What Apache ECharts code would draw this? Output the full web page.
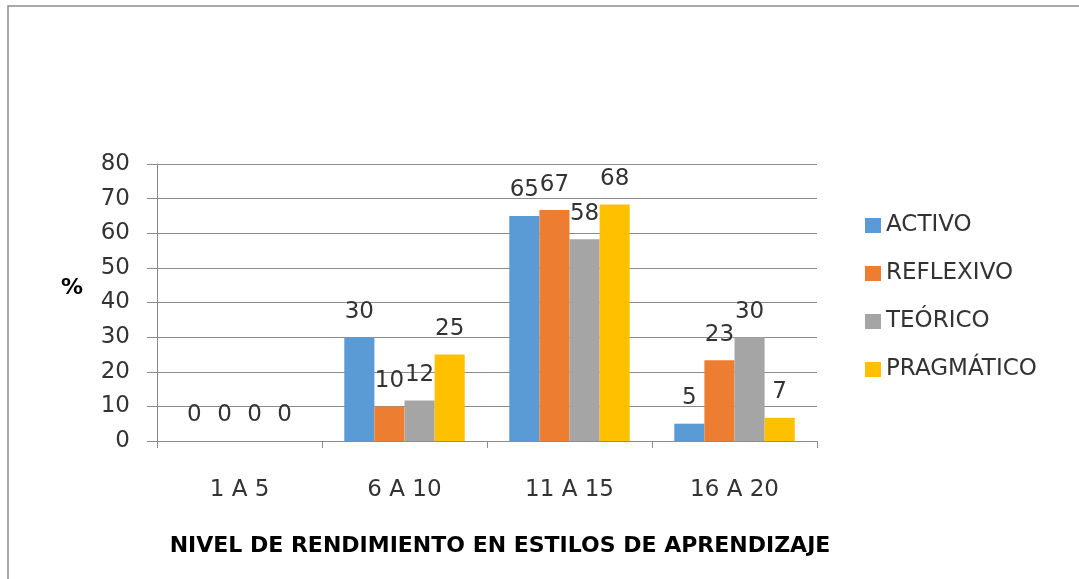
<!DOCTYPE html>
<html>
<head>
<meta charset="utf-8">
<script src="https://cdn.jsdelivr.net/npm/echarts@6/dist/echarts.min.js"></script>
<style>
html,body{margin:0;padding:0;background:#fff;}
#chart{width:1079px;height:579px;}
</style>
</head>
<body>
<div id="chart"></div>
<script>
const categories = ['1 A 5', '6 A 10', '11 A 15', '16 A 20'];
const seriesNames = ['ACTIVO', 'REFLEXIVO', 'TEÓRICO', 'PRAGMÁTICO'];
const activo = [0, 30, 65, 5];
const reflexivo = [0, 10, 66.7, 23.3];
const teorico = [0, 11.7, 58.3, 30];
const pragmatico = [0, 25, 68.3, 6.7];
const yTicks = {min: 0, max: 80, interval: 10};
const colors = ['#5B9BD5', '#ED7D31', '#A5A5A5', '#FFC000'];

const values = [activo, reflexivo, teorico, pragmatico];
const txt = '#333333';
const font = 'DejaVu Sans';

const chart = echarts.init(document.getElementById('chart'), null, {renderer: 'canvas'});
chart.setOption({
  animation: false,
  backgroundColor: '#ffffff',
  graphic: [{
    type: 'rect',
    shape: {x: 8, y: 6, width: 1200, height: 700},
    style: {fill: 'none', stroke: '#8c8c8c', lineWidth: 1.5},
    silent: true
  }],
  grid: {left: 157, right: 262, top: 164, bottom: 138},
  legend: {
    orient: 'vertical',
    left: 860,
    top: 209,
    itemWidth: 16,
    itemHeight: 15,
    itemGap: 25,
    icon: 'rect',
    textStyle: {fontFamily: font, fontSize: 23, color: txt},
    data: seriesNames
  },
  xAxis: {
    type: 'category',
    data: categories,
    name: 'NIVEL DE RENDIMIENTO EN ESTILOS DE APRENDIZAJE',
    nameLocation: 'middle',
    nameGap: 94,
    nameTextStyle: {fontFamily: font, fontSize: 22, fontWeight: 'bold', color: '#000', padding: [0, 0, 0, 26]},
    axisLine: {lineStyle: {color: '#8c8c8c', width: 1}},
    axisTick: {show: true, length: 7, lineStyle: {color: '#8c8c8c'}},
    axisLabel: {fontFamily: font, fontSize: 23, color: txt, margin: 38}
  },
  yAxis: {
    type: 'value',
    min: yTicks.min,
    max: yTicks.max,
    interval: yTicks.interval,
    name: '%',
    nameLocation: 'middle',
    nameRotate: 0,
    nameGap: 74,
    nameTextStyle: {fontFamily: font, fontSize: 22, fontWeight: 'bold', color: '#000', verticalAlign: 'bottom', padding: [0, 0, 3, 0]},
    axisLine: {show: true, lineStyle: {color: '#8c8c8c', width: 1}},
    axisTick: {show: true, length: 10, lineStyle: {color: '#8c8c8c'}},
    splitLine: {lineStyle: {color: '#8c8c8c', width: 1}},
    axisLabel: {fontFamily: font, fontSize: 23, color: txt, margin: 27}
  },
  series: seriesNames.map((n, i) => ({
    name: n,
    type: 'bar',
    data: values[i],
    barGap: '0%',
    barCategoryGap: '27%',
    itemStyle: {color: colors[i]},
    label: {
      show: true,
      position: 'top',
      distance: 14,
      fontFamily: font,
      fontSize: 23,
      color: txt,
      formatter: p => String(Math.round(p.value))
    }
  }))
});
</script>
</body>
</html>
